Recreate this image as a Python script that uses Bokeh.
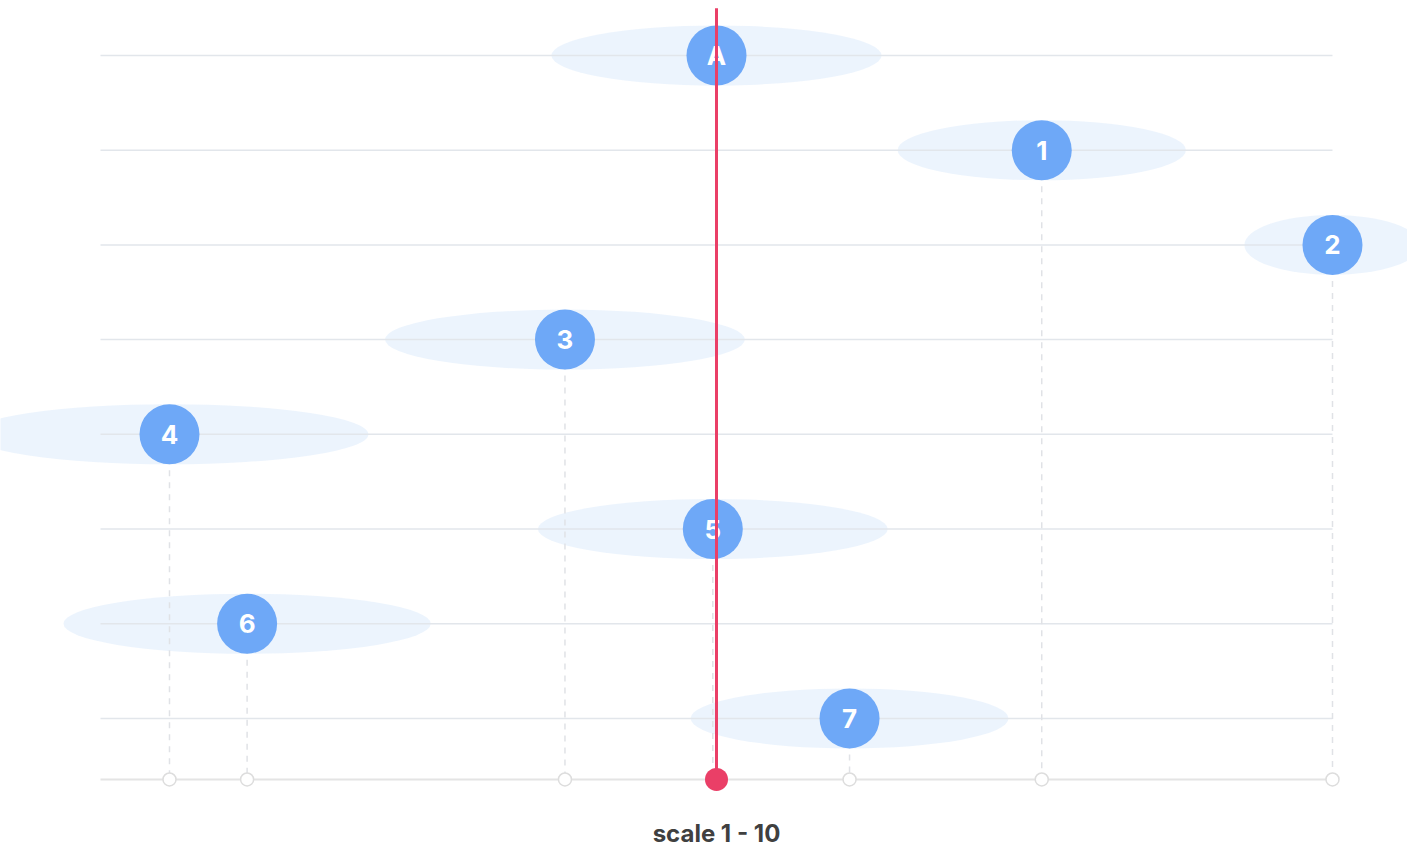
from bokeh.plotting import figure
from bokeh.models import ColumnDataSource, Range1d, Label
from bokeh.core.properties import value
from bokeh.embed import file_html
from bokeh.resources import INLINE

# ---- data ----
labels = ["A", "1", "2", "3", "4", "5", "6", "7"]
scores = [5.0, 7.64, 10.0, 3.77, 0.56, 4.97, 1.19, 6.08]
spreads = [2.68, 2.34, 1.43, 2.92, 3.23, 2.84, 2.98, 2.58]
rows = [8, 7, 6, 5, 4, 3, 2, 1]
reference_score = 5.0
scale_min, scale_max = 0.0, 10.0
axis_title = "scale 1 - 10"

baseline = 0.355
line_top = 8.5
W, H = 1407, 848
x_lo, x_hi = -0.8117, 10.6088
y_lo, y_hi = -0.3738, 8.5808

p = figure(width=W, height=H, output_backend="svg", toolbar_location=None,
           x_range=Range1d(x_lo, x_hi), y_range=Range1d(y_lo, y_hi),
           min_border=0, outline_line_color=None)
p.axis.visible = False
p.grid.visible = False
p.background_fill_color = "white"
p.border_fill_color = "white"

src = ColumnDataSource(dict(x=scores, y=rows, w=spreads, lab=labels,
                            base=[baseline] * len(rows),
                            x0=[scale_min] * len(rows), x1=[scale_max] * len(rows)))

# halos
p.ellipse(x="x", y="y", width="w", height=0.634, source=src,
          fill_color="#e9f2fd", fill_alpha=0.85, line_color=None)

# row grid lines
p.segment(x0="x0", y0="y", x1="x1", y1="y", source=src,
          line_color="#e2e6eb", line_width=1.5)

# baseline
p.segment(x0=[scale_min], y0=[baseline], x1=[scale_max], y1=[baseline],
          line_color="#e4e4e4", line_width=2)

# drop lines
p.segment(x0="x", y0="y", x1="x", y1="base", source=src,
          line_color="#e0e2e6", line_width=1.5, line_dash="6 6")

# baseline markers
p.scatter(x="x", y="base", source=src, size=13, marker="circle",
          fill_color="white", line_color="#dddddd", line_width=1.5)

# bubbles
p.scatter(x="x", y="y", source=src, size=60, marker="circle",
          fill_color="#6ea8f7", line_color=None)
p.text(x="x", y="y", text="lab", source=src, text_color="white",
       text_font=value("Inter"), text_font_style="bold", text_font_size="26px",
       text_align="center", text_baseline="middle")

# reference line
p.segment(x0=[reference_score], y0=[baseline], x1=[reference_score], y1=[line_top],
          line_color="#ea3f67", line_width=3)
p.scatter(x=[reference_score], y=[baseline], size=23, marker="circle",
          fill_color="#ea3f67", line_color=None)

p.add_layout(Label(x=(scale_min + scale_max) / 2, y=-0.215, text=axis_title,
                   text_align="center", text_baseline="middle",
                   text_font="Inter", text_font_style="bold",
                   text_font_size="24px", text_color="#404040"))

open("out.html", "w").write(file_html(p, INLINE))
